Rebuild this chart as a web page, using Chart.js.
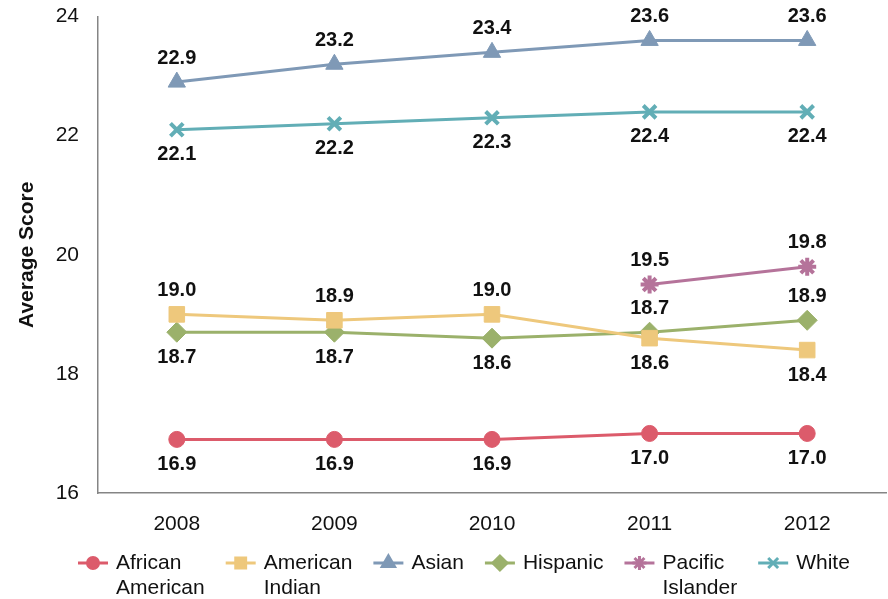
<!DOCTYPE html>
<html>
<head>
<meta charset="utf-8">
<script src="https://cdn.jsdelivr.net/npm/chart.js@4.4.1/dist/chart.umd.min.js"></script>
<style>
  html, body { margin: 0; padding: 0; background: #fff; }
  #wrap { width: 888px; height: 599px; position: relative; }
</style>
</head>
<body>
<div id="wrap"><canvas id="chart"></canvas></div>
<script>
const years = ["2008", "2009", "2010", "2011", "2012"]
const africanAmerican = [16.9, 16.9, 16.9, 17.0, 17.0]
const americanIndian = [19.0, 18.9, 19.0, 18.6, 18.4]
const asian = [22.9, 23.2, 23.4, 23.6, 23.6]
const hispanic = [18.7, 18.7, 18.6, 18.7, 18.9]
const pacificIslander = [null, null, null, 19.5, 19.8]
const white = [22.1, 22.2, 22.3, 22.4, 22.4]
const yTicks = [16, 18, 20, 22, 24]

const FONT = "'Liberation Sans', Helvetica, Arial, sans-serif"

// where each value label sits relative to its point
const A = "above", B = "below"
const series = [
  { name: ["African", "American"], data: africanAmerican, color: "#DC5B6B", style: "circle", r: 8, bw: 1, lr: 5.5, lbw: 1, sides: [B, B, B, B, B] },
  { name: ["American", "Indian"], data: americanIndian, color: "#EEC87C", style: "rect", r: 11, bw: 1, lr: 7, lbw: 1, sides: [A, A, A, B, B] },
  { name: ["Asian"], data: asian, color: "#7F99B6", style: "triangle", r: 10, bw: 1, lr: 7, lbw: 1, sides: [A, A, A, A, A] },
  { name: ["Hispanic"], data: hispanic, color: "#9BB16B", style: "rectRot", r: 10, bw: 1, lr: 7, lbw: 1, sides: [B, B, B, A, A] },
  { name: ["Pacific", "Islander"], data: pacificIslander, color: "#B5739A", style: "star", r: 9, bw: 4, lr: 7, lbw: 3, sides: [A, A, A, A, A] },
  { name: ["White"], data: white, color: "#62AEB6", style: "crossRot", r: 9, bw: 4, lr: 7, lbw: 3, sides: [B, B, B, B, B] }
]

function legendIcon(ctx, s, x, y) {
  ctx.save()
  ctx.strokeStyle = s.color
  ctx.fillStyle = s.color
  ctx.lineWidth = 3
  ctx.beginPath()
  ctx.moveTo(x, y)
  ctx.lineTo(x + 30, y)
  ctx.stroke()
  Chart.helpers.drawPoint(ctx, { pointStyle: s.style, radius: s.lr, rotation: 0, borderWidth: s.lbw }, x + 15, y)
  ctx.restore()
}

const valueLabels = {
  id: "valueLabels",
  afterDatasetsDraw(chart) {
    const ctx = chart.ctx
    ctx.save()
    ctx.font = "bold 20px " + FONT
    ctx.fillStyle = "#111"
    ctx.textAlign = "center"
    ctx.textBaseline = "middle"
    chart.data.datasets.forEach((ds, di) => {
      const meta = chart.getDatasetMeta(di)
      meta.data.forEach((pt, i) => {
        const v = ds.data[i]
        if (v == null) return
        const dy = series[di].sides[i] === A ? -24 : 25
        ctx.fillText(v.toFixed(1), pt.x, pt.y + dy)
      })
    })
    ctx.restore()
  }
}

// legend drawn by hand: the built-in one can't lay out two-line labels here
const lineLegend = {
  id: "lineLegend",
  afterDraw(chart) {
    const ctx = chart.ctx
    ctx.save()
    ctx.font = "21px " + FONT
    ctx.fillStyle = "#111"
    ctx.textAlign = "left"
    ctx.textBaseline = "middle"
    let x = 78
    const y = 563
    series.forEach(s => {
      legendIcon(ctx, s, x, y)
      let w = 0
      s.name.forEach((line, li) => {
        ctx.fillText(line, x + 38, y + li * 25)
        w = Math.max(w, ctx.measureText(line).width)
      })
      x += 38 + w + 21
    })
    ctx.restore()
  }
}

new Chart(document.getElementById("chart"), {
  type: "line",
  data: {
    labels: years,
    datasets: series.map(s => ({
      label: s.name.join(" "),
      data: s.data,
      borderColor: s.color,
      backgroundColor: s.color,
      borderWidth: 3,
      pointStyle: s.style,
      pointRadius: s.r,
      pointBorderWidth: s.bw,
      pointBackgroundColor: s.color,
      pointBorderColor: s.color,
      tension: 0,
      spanGaps: false
    }))
  },
  plugins: [valueLabels, lineLegend],
  options: {
    responsive: true,
    maintainAspectRatio: false,
    animation: false,
    layout: { autoPadding: false, padding: { top: 0, right: 2, left: 0, bottom: 64 } },
    plugins: {
      tooltip: { enabled: false },
      legend: { display: false }
    },
    scales: {
      x: {
        offset: true,
        afterFit: scale => { scale.height = 42 },
        grid: { display: false, drawTicks: false },
        border: { display: true, color: "#858585", width: 1.5 },
        ticks: { color: "#111", padding: 19, font: { family: FONT, size: 21 } }
      },
      y: {
        min: 16,
        max: 24,
        afterBuildTicks: scale => { scale.ticks = yTicks.map(v => ({ value: v })) },
        afterFit: scale => { scale.width = 98 },
        // invisible tick marks keep the labels off the axis without extra top padding
        grid: { display: true, color: "transparent", drawTicks: true, tickLength: 15, tickColor: "transparent" },
        border: { display: true, color: "#858585", width: 1.5 },
        ticks: { color: "#111", padding: 4, font: { family: FONT, size: 21 } },
        title: {
          display: true,
          text: "Average Score",
          color: "#111",
          padding: { top: 15, bottom: 0 },
          font: { family: FONT, size: 21, weight: "bold", lineHeight: 1.2 }
        }
      }
    }
  }
})
</script>
</body>
</html>
